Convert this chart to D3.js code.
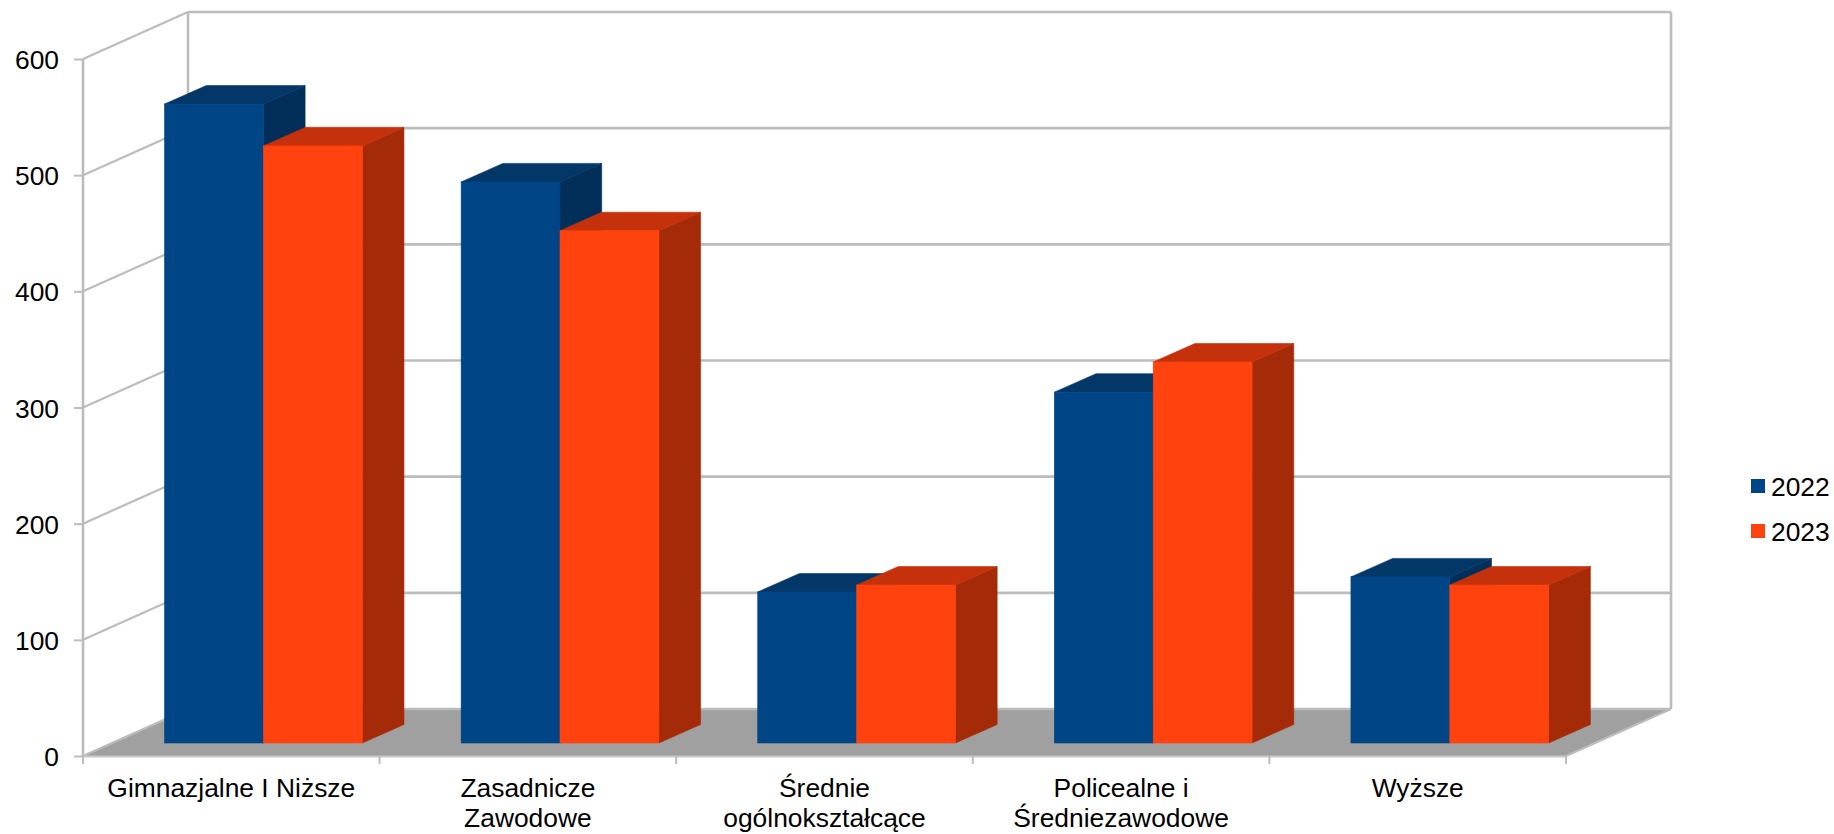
<!DOCTYPE html>
<html lang="pl">
<head>
<meta charset="utf-8">
<title>Wykres</title>
<script src="https://d3js.org/d3.v7.min.js"></script>
<style>
  body { margin: 0; background: #fff; }
  text { font-family: "Liberation Sans", Arial, sans-serif; fill: #000; }
</style>
</head>
<body>
<script>
var categories = ["Gimnazjalne I Niższe", "Zasadnicze Zawodowe", "Średnie ogólnokształcące", "Policealne i Średniezawodowe", "Wyższe"];
var categoryLines = [["Gimnazjalne I Niższe"], ["Zasadnicze", "Zawodowe"], ["Średnie", "ogólnokształcące"], ["Policealne i", "Średniezawodowe"], ["Wyższe"]];
var seriesNames = ["2022", "2023"];
var values2022 = [550, 483, 130, 302, 143];
var values2023 = [514, 441, 136, 328, 136];
var yTicks = [0, 100, 200, 300, 400, 500, 600];

var colors = { "2022": "#004586", "2023": "#ff420e" };
var topColors = { "2022": "#033768", "2023": "#c5310b" };
var sideColors = { "2022": "#022f5a", "2023": "#a52a08" };
var gridColor = "#bcbcbc";
var fontSize = "26.4px";

var w = 1834, h = 834;
var wallDx = 105, wallDy = -47;   // depth of the chart box
var barDx = 41.7, barDy = -18.5;  // depth of one bar
var barBaseOffset = 13;           // bars sit a little behind the front edge

var svg = d3.select("body").append("svg")
    .attr("width", w)
    .attr("height", h)
    .style("display", "block");

var x = d3.scaleBand().domain(categories).range([83, 1566]);
var y = d3.scaleLinear().domain([0, 600]).range([756, 59]);

var xBars = d3.scaleBand().domain(categories).range([115.1, 1598.1])
    .paddingInner(1 / 3).paddingOuter(1 / 6);
var xSeries = d3.scaleBand().domain(seriesNames).range([0, xBars.bandwidth()]);

function poly(pts) {
  return pts.map(function(p) { return p.join(","); }).join(" ");
}

// floor
svg.append("polygon")
    .attr("fill", "#a0a0a0")
    .attr("points", poly([[x.range()[0], y(0)], [x.range()[1], y(0)],
      [x.range()[1] + wallDx, y(0) + wallDy], [x.range()[0] + wallDx, y(0) + wallDy]]));

// walls and grid
var grid = svg.append("g")
    .attr("stroke", gridColor)
    .attr("stroke-width", 2.6)
    .attr("fill", "none");

grid.selectAll(".side").data(yTicks).enter().append("line")
    .attr("stroke-width", 2.2)
    .attr("x1", x.range()[0]).attr("y1", function(d) { return y(d); })
    .attr("x2", x.range()[0] + wallDx).attr("y2", function(d) { return y(d) + wallDy; });

grid.selectAll(".back").data(yTicks).enter().append("line")
    .attr("x1", x.range()[0] + wallDx).attr("y1", function(d) { return y(d) + wallDy; })
    .attr("x2", x.range()[1] + wallDx).attr("y2", function(d) { return y(d) + wallDy; });

grid.append("line")
    .attr("x1", x.range()[0]).attr("x2", x.range()[0])
    .attr("y1", y(600)).attr("y2", y(0));
grid.append("line")
    .attr("x1", x.range()[0] + wallDx).attr("x2", x.range()[0] + wallDx)
    .attr("y1", y(600) + wallDy).attr("y2", y(0) + wallDy);
grid.append("line")
    .attr("x1", x.range()[1] + wallDx).attr("x2", x.range()[1] + wallDx)
    .attr("y1", y(600) + wallDy).attr("y2", y(0) + wallDy);
grid.append("line")
    .attr("stroke-width", 2.2)
    .attr("x1", x.range()[1]).attr("y1", y(0))
    .attr("x2", x.range()[1] + wallDx).attr("y2", y(0) + wallDy);

// bars
var series = [
  { name: "2022", values: values2022 },
  { name: "2023", values: values2023 }
];

categories.forEach(function(cat, i) {
  var g = svg.append("g").attr("stroke-width", 0.6);
  series.forEach(function(s) {
    var x0 = xBars(cat) + xSeries(s.name);
    var x1 = x0 + xSeries.bandwidth();
    var yTop = y(s.values[i]) - barBaseOffset;
    var yBase = y(0) - barBaseOffset;

    g.append("polygon")
        .attr("fill", sideColors[s.name])
        .attr("stroke", sideColors[s.name])
        .attr("points", poly([[x1, yTop], [x1 + barDx, yTop + barDy], [x1 + barDx, yBase + barDy], [x1, yBase]]));
    g.append("polygon")
        .attr("fill", topColors[s.name])
        .attr("stroke", topColors[s.name])
        .attr("points", poly([[x0, yTop], [x0 + barDx, yTop + barDy], [x1 + barDx, yTop + barDy], [x1, yTop]]));
    g.append("rect")
        .attr("fill", colors[s.name])
        .attr("stroke", colors[s.name])
        .attr("x", x0).attr("y", yTop)
        .attr("width", xSeries.bandwidth())
        .attr("height", yBase - yTop);
  });
});

// axes
var yAxis = d3.axisLeft(y).tickValues(yTicks).tickSize(9).tickPadding(15);
var yG = svg.append("g")
    .attr("transform", "translate(" + x.range()[0] + ",0)")
    .call(yAxis);
yG.select(".domain").remove();
yG.selectAll("line").attr("stroke", gridColor).attr("stroke-width", 2);
yG.selectAll("text").style("font-size", fontSize).attr("font-family", null).attr("dy", "0.36em");

var xAxis = d3.axisBottom(x).tickValues([]).tickSize(0);
var xG = svg.append("g")
    .attr("transform", "translate(0," + y(0) + ")")
    .call(xAxis);
xG.select(".domain").attr("stroke", "#c8c8c8").attr("stroke-width", 2.2);

// category boundary ticks
var edges = categories.map(function(c) { return x(c); }).concat([x.range()[1]]);
xG.selectAll(".edge").data(edges).enter().append("line")
    .attr("x1", function(d) { return d; }).attr("x2", function(d) { return d; })
    .attr("y1", 0).attr("y2", 8)
    .attr("stroke", gridColor).attr("stroke-width", 2);

var labels = svg.append("g").selectAll("text").data(categories).enter().append("text")
    .attr("text-anchor", "middle")
    .style("font-size", fontSize)
    .attr("y", 797);
labels.selectAll("tspan")
    .data(function(d, i) { return categoryLines[i]; })
    .enter().append("tspan")
    .attr("x", function() { return x(d3.select(this.parentNode).datum()) + x.bandwidth() / 2; })
    .attr("dy", function(d, i) { return i === 0 ? 0 : 30; })
    .text(function(d) { return d; });

// legend
var legY = d3.scalePoint().domain(seriesNames).range([486, 531]);
var leg = svg.append("g").selectAll("g").data(seriesNames).enter().append("g")
    .attr("transform", function(d) { return "translate(1751," + legY(d) + ")"; });
leg.append("rect")
    .attr("x", 0).attr("y", -7).attr("width", 14).attr("height", 14)
    .attr("fill", function(d) { return colors[d]; });
leg.append("text")
    .attr("x", 20).attr("dy", "0.36em")
    .style("font-size", fontSize)
    .text(function(d) { return d; });
</script>
</body>
</html>
